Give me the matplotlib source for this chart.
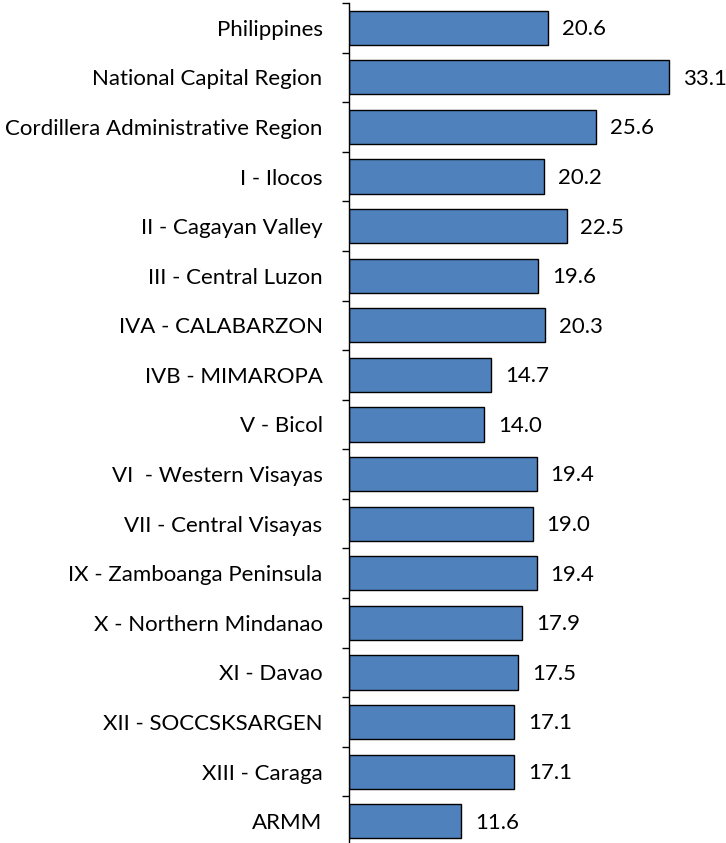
import numpy as np
import matplotlib.pyplot as plt

regions = ['Philippines', 'National Capital Region', 'Cordillera Administrative Region',
           'I - Ilocos', 'II - Cagayan Valley', 'III - Central Luzon', 'IVA - CALABARZON',
           'IVB - MIMAROPA', 'V - Bicol', 'VI  - Western Visayas', 'VII - Central Visayas',
           'IX - Zamboanga Peninsula', 'X - Northern Mindanao', 'XI - Davao',
           'XII - SOCCSKSARGEN', 'XIII - Caraga', 'ARMM']
values = [20.6, 33.1, 25.6, 20.2, 22.5, 19.6, 20.3, 14.7, 14.0, 19.4, 19.0,
          19.4, 17.9, 17.5, 17.1, 17.1, 11.6]

plt.rcParams['font.family'] = ['Lato', 'DejaVu Sans']

fig = plt.figure(figsize=(7.26, 8.43), dpi=100)
ax = fig.add_axes([349 / 726, -3 / 843, 348 / 726, 843 / 843])

y = np.arange(len(regions))
bars = ax.barh(y, values, height=0.69, color='#4F81BD', edgecolor='black', linewidth=1)
ax.set_ylim(len(regions) - 0.5, -0.5)
ax.set_xlim(0, 36)

ax.set_yticks(y)
ax.set_yticklabels(regions, fontsize=16)
ax.tick_params(axis='y', which='major', length=0, pad=19)
ax.set_yticks(np.arange(len(regions) + 1) - 0.5, minor=True)
ax.tick_params(axis='y', which='minor', length=5, width=1, direction='out')

ax.set_xticks([])
for s in ['top', 'right', 'bottom']:
    ax.spines[s].set_visible(False)
ax.spines['left'].set_linewidth(1)

for b, v in zip(bars, values):
    ax.annotate(f'{v:.1f}', (b.get_width(), b.get_y() + b.get_height() / 2),
                xytext=(10, -1), textcoords='offset points', va='center',
                fontsize=16, annotation_clip=False)

fig.savefig('out.png', dpi=100)
